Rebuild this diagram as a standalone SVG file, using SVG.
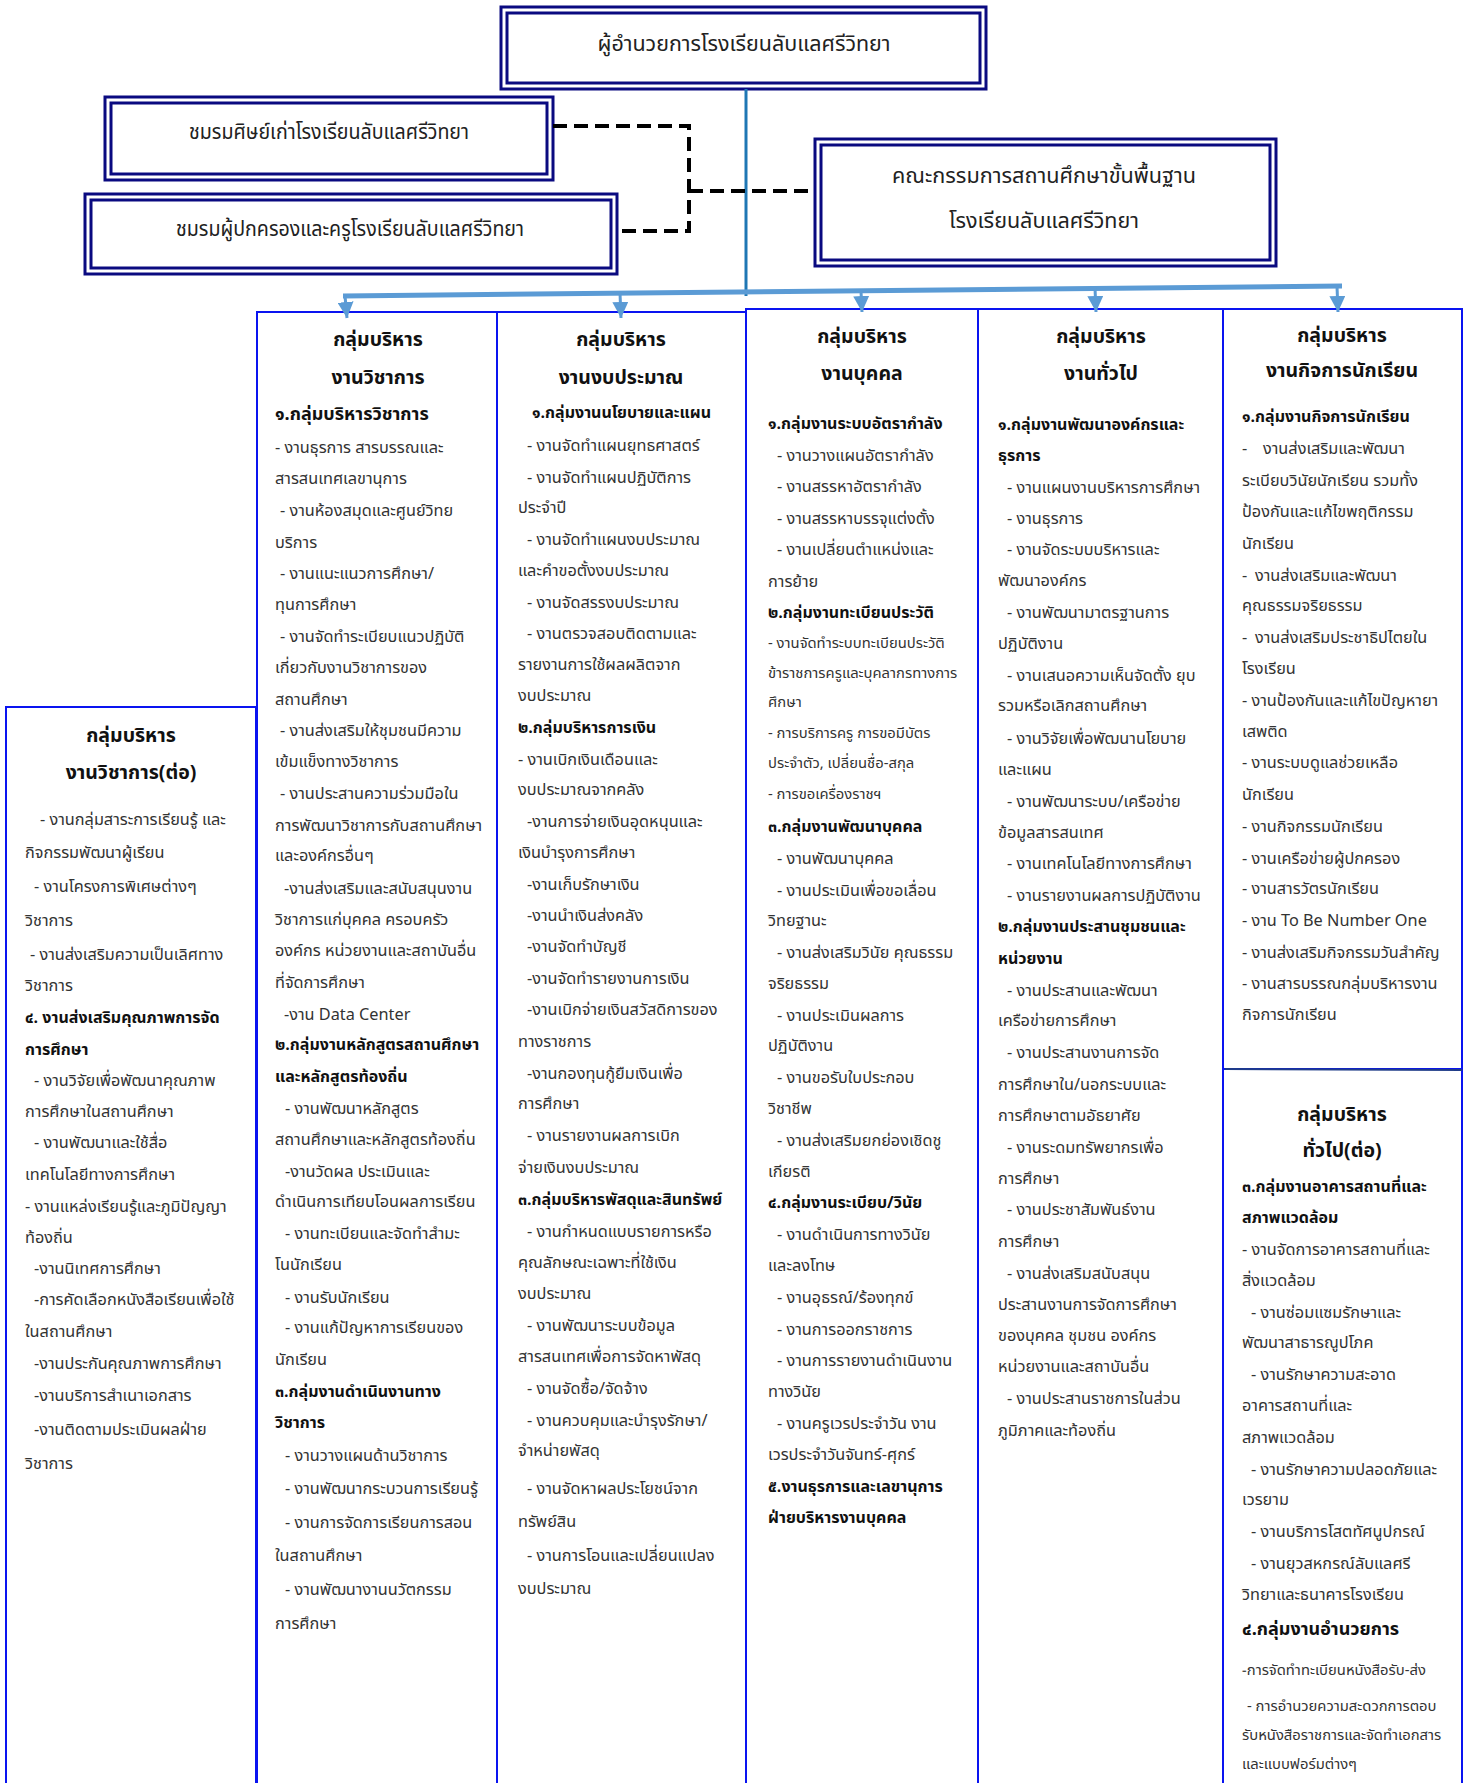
<svg xmlns="http://www.w3.org/2000/svg" width="1465" height="1783" viewBox="0 0 1465 1783">
<defs>
<style>
text{font-family:"Noto Sans Thai","Tahoma","Noto Sans","DejaVu Sans",sans-serif;}
.t{font-size:16.3px;fill:#333333;}
.b{font-size:16px;font-weight:bold;fill:#111111;}
.s{font-size:14.8px;fill:#333333;}
.h{font-size:19.5px;font-weight:bold;fill:#111111;text-anchor:middle;}
.hd{font-size:21px;fill:#222222;text-anchor:middle;}
.col{fill:#ffffff;stroke:#0a14f0;stroke-width:2;}
.out{fill:#ffffff;stroke:#0a0a80;stroke-width:3;}
.in{fill:none;stroke:#0a0a80;stroke-width:3;}
.dash{fill:none;stroke:#000000;stroke-width:4;stroke-dasharray:14 7;}
.arr{fill:none;stroke:#5b9bd5;stroke-width:3;}
</style>
<marker id="ah" markerWidth="16" markerHeight="16" refX="16" refY="8" orient="auto" markerUnits="userSpaceOnUse" viewBox="0 0 16 16">
<path d="M0,0 L16,8 L0,16 Z" fill="#5b9bd5"/>
</marker>
</defs>
<rect width="1465" height="1783" fill="#ffffff"/>

<g id="node-academic-cont">
<rect class="col" x="6" y="707" width="250" height="1090"/>
<text class="h" x="131" y="742">กลุ่มบริหาร</text>
<text class="h" x="131" y="779">งานวิชาการ(ต่อ)</text>
<text class="t" x="40" y="825">- งานกลุ่มสาระการเรียนรู้ และ</text>
<text class="t" x="25" y="858">กิจกรรมพัฒนาผู้เรียน</text>
<text class="t" x="34" y="892">- งานโครงการพิเศษต่างๆ</text>
<text class="t" x="25" y="926">วิชาการ</text>
<text class="t" x="30" y="960">- งานส่งเสริมความเป็นเลิศทาง</text>
<text class="t" x="25" y="991">วิชาการ</text>
<text class="b" x="25" y="1023">๔. งานส่งเสริมคุณภาพการจัด</text>
<text class="b" x="25" y="1055">การศึกษา</text>
<text class="t" x="34" y="1086">- งานวิจัยเพื่อพัฒนาคุณภาพ</text>
<text class="t" x="25" y="1117">การศึกษาในสถานศึกษา</text>
<text class="t" x="34" y="1148">- งานพัฒนาและใช้สื่อ</text>
<text class="t" x="25" y="1180">เทคโนโลยีทางการศึกษา</text>
<text class="t" x="25" y="1212">- งานแหล่งเรียนรู้และภูมิปัญญา</text>
<text class="t" x="25" y="1243">ท้องถิ่น</text>
<text class="t" x="34" y="1274">-งานนิเทศการศึกษา</text>
<text class="t" x="34" y="1305">-การคัดเลือกหนังสือเรียนเพื่อใช้</text>
<text class="t" x="25" y="1337">ในสถานศึกษา</text>
<text class="t" x="34" y="1369">-งานประกันคุณภาพการศึกษา</text>
<text class="t" x="34" y="1401">-งานบริการสำเนาเอกสาร</text>
<text class="t" x="34" y="1435">-งานติดตามประเมินผลฝ่าย</text>
<text class="t" x="25" y="1469">วิชาการ</text>
</g>

<g id="node-academic">
<rect class="col" x="257" y="312" width="240" height="1490"/>
<text class="h" x="378" y="346">กลุ่มบริหาร</text>
<text class="h" x="378" y="384">งานวิชาการ</text>
<text class="b" x="275" y="420" style="font-size:18px">๑.กลุ่มบริหารวิชาการ</text>
<text class="t" x="275" y="453">- งานธุรการ สารบรรณและ</text>
<text class="t" x="275" y="484">สารสนเทศเลขานุการ</text>
<text class="t" x="280" y="516">- งานห้องสมุดและศูนย์วิทย</text>
<text class="t" x="275" y="548">บริการ</text>
<text class="t" x="280" y="579">- งานแนะแนวการศึกษา/</text>
<text class="t" x="275" y="610">ทุนการศึกษา</text>
<text class="t" x="280" y="642">- งานจัดทำระเบียบแนวปฏิบัติ</text>
<text class="t" x="275" y="673">เกี่ยวกับงานวิชาการของ</text>
<text class="t" x="275" y="705">สถานศึกษา</text>
<text class="t" x="280" y="736">- งานส่งเสริมให้ชุมชนมีความ</text>
<text class="t" x="275" y="767">เข้มแข็งทางวิชาการ</text>
<text class="t" x="280" y="799">- งานประสานความร่วมมือใน</text>
<text class="t" x="275" y="831">การพัฒนาวิชาการกับสถานศึกษา</text>
<text class="t" x="275" y="861">และองค์กรอื่นๆ</text>
<text class="t" x="284" y="894">-งานส่งเสริมและสนับสนุนงาน</text>
<text class="t" x="275" y="925">วิชาการแก่บุคคล ครอบครัว</text>
<text class="t" x="275" y="956">องค์กร หน่วยงานและสถาบันอื่น</text>
<text class="t" x="275" y="988">ที่จัดการศึกษา</text>
<text class="t" x="284" y="1020">-งาน Data Center</text>
<text class="b" x="275" y="1050">๒.กลุ่มงานหลักสูตรสถานศึกษา</text>
<text class="b" x="275" y="1082">และหลักสูตรท้องถิ่น</text>
<text class="t" x="285" y="1114">- งานพัฒนาหลักสูตร</text>
<text class="t" x="275" y="1145">สถานศึกษาและหลักสูตรท้องถิ่น</text>
<text class="t" x="285" y="1177">-งานวัดผล ประเมินและ</text>
<text class="t" x="275" y="1207">ดำเนินการเทียบโอนผลการเรียน</text>
<text class="t" x="285" y="1239">- งานทะเบียนและจัดทำสำมะ</text>
<text class="t" x="275" y="1270">โนนักเรียน</text>
<text class="t" x="285" y="1303">- งานรับนักเรียน</text>
<text class="t" x="285" y="1333">- งานแก้ปัญหาการเรียนของ</text>
<text class="t" x="275" y="1365">นักเรียน</text>
<text class="b" x="275" y="1397">๓.กลุ่มงานดำเนินงานทาง</text>
<text class="b" x="275" y="1428">วิชาการ</text>
<text class="t" x="285" y="1461">- งานวางแผนด้านวิชาการ</text>
<text class="t" x="285" y="1494">- งานพัฒนากระบวนการเรียนรู้</text>
<text class="t" x="285" y="1528">- งานการจัดการเรียนการสอน</text>
<text class="t" x="275" y="1561">ในสถานศึกษา</text>
<text class="t" x="285" y="1595">- งานพัฒนางานนวัตกรรม</text>
<text class="t" x="275" y="1629">การศึกษา</text>
</g>

<g id="node-budget">
<rect class="col" x="497" y="312" width="249" height="1490"/>
<text class="h" x="621" y="346">กลุ่มบริหาร</text>
<text class="h" x="621" y="384">งานงบประมาณ</text>
<text class="b" x="532" y="418">๑.กลุ่มงานนโยบายและแผน</text>
<text class="t" x="527" y="451">- งานจัดทำแผนยุทธศาสตร์</text>
<text class="t" x="527" y="483">- งานจัดทำแผนปฏิบัติการ</text>
<text class="t" x="518" y="513">ประจำปี</text>
<text class="t" x="527" y="545">- งานจัดทำแผนงบประมาณ</text>
<text class="t" x="518" y="576">และคำขอตั้งงบประมาณ</text>
<text class="t" x="527" y="608">- งานจัดสรรงบประมาณ</text>
<text class="t" x="527" y="639">- งานตรวจสอบติดตามและ</text>
<text class="t" x="518" y="670">รายงานการใช้ผลผลิตจาก</text>
<text class="t" x="518" y="701">งบประมาณ</text>
<text class="b" x="518" y="733">๒.กลุ่มบริหารการเงิน</text>
<text class="t" x="518" y="765">- งานเบิกเงินเดือนและ</text>
<text class="t" x="518" y="795">งบประมาณจากคลัง</text>
<text class="t" x="527" y="827">-งานการจ่ายเงินอุดหนุนและ</text>
<text class="t" x="518" y="858">เงินบำรุงการศึกษา</text>
<text class="t" x="527" y="890">-งานเก็บรักษาเงิน</text>
<text class="t" x="527" y="921">-งานนำเงินส่งคลัง</text>
<text class="t" x="527" y="952">-งานจัดทำบัญชี</text>
<text class="t" x="527" y="984">-งานจัดทำรายงานการเงิน</text>
<text class="t" x="527" y="1015">-งานเบิกจ่ายเงินสวัสดิการของ</text>
<text class="t" x="518" y="1047">ทางราชการ</text>
<text class="t" x="527" y="1079">-งานกองทุนกู้ยืมเงินเพื่อ</text>
<text class="t" x="518" y="1109">การศึกษา</text>
<text class="t" x="527" y="1141">- งานรายงานผลการเบิก</text>
<text class="t" x="518" y="1173">จ่ายเงินงบประมาณ</text>
<text class="b" x="518" y="1205">๓.กลุ่มบริหารพัสดุและสินทรัพย์</text>
<text class="t" x="527" y="1237">- งานกำหนดแบบรายการหรือ</text>
<text class="t" x="518" y="1268">คุณลักษณะเฉพาะที่ใช้เงิน</text>
<text class="t" x="518" y="1299">งบประมาณ</text>
<text class="t" x="527" y="1331">- งานพัฒนาระบบข้อมูล</text>
<text class="t" x="518" y="1362">สารสนเทศเพื่อการจัดหาพัสดุ</text>
<text class="t" x="527" y="1394">- งานจัดซื้อ/จัดจ้าง</text>
<text class="t" x="527" y="1426">- งานควบคุมและบำรุงรักษา/</text>
<text class="t" x="518" y="1456">จำหน่ายพัสดุ</text>
<text class="t" x="527" y="1494">- งานจัดหาผลประโยชน์จาก</text>
<text class="t" x="518" y="1527">ทรัพย์สิน</text>
<text class="t" x="527" y="1561">- งานการโอนและเปลี่ยนแปลง</text>
<text class="t" x="518" y="1594">งบประมาณ</text>
</g>

<g id="node-personnel">
<rect class="col" x="746" y="309" width="232" height="1490"/>
<text class="h" x="862" y="343">กลุ่มบริหาร</text>
<text class="h" x="862" y="380">งานบุคคล</text>
<text class="b" x="768" y="429">๑.กลุ่มงานระบบอัตรากำลัง</text>
<text class="t" x="777" y="461">- งานวางแผนอัตรากำลัง</text>
<text class="t" x="777" y="492">- งานสรรหาอัตรากำลัง</text>
<text class="t" x="777" y="524">- งานสรรหาบรรจุแต่งตั้ง</text>
<text class="t" x="777" y="555">- งานเปลี่ยนตำแหน่งและ</text>
<text class="t" x="768" y="587">การย้าย</text>
<text class="b" x="768" y="618">๒.กลุ่มงานทะเบียนประวัติ</text>
<text class="s" x="768" y="648">- งานจัดทำระบบทะเบียนประวัติ</text>
<text class="s" x="768" y="678">ข้าราชการครูและบุคลากรทางการ</text>
<text class="s" x="768" y="707">ศึกษา</text>
<text class="s" x="768" y="738">- การบริการครู การขอมีบัตร</text>
<text class="s" x="768" y="768">ประจำตัว, เปลี่ยนชื่อ-สกุล</text>
<text class="s" x="768" y="799">- การขอเครื่องราชฯ</text>
<text class="b" x="768" y="832">๓.กลุ่มงานพัฒนาบุคคล</text>
<text class="t" x="777" y="864">- งานพัฒนาบุคคล</text>
<text class="t" x="777" y="896">- งานประเมินเพื่อขอเลื่อน</text>
<text class="t" x="768" y="926">วิทยฐานะ</text>
<text class="t" x="777" y="958">- งานส่งเสริมวินัย คุณธรรม</text>
<text class="t" x="768" y="989">จริยธรรม</text>
<text class="t" x="777" y="1021">- งานประเมินผลการ</text>
<text class="t" x="768" y="1051">ปฏิบัติงาน</text>
<text class="t" x="777" y="1083">- งานขอรับใบประกอบ</text>
<text class="t" x="768" y="1114">วิชาชีพ</text>
<text class="t" x="777" y="1146">- งานส่งเสริมยกย่องเชิดชู</text>
<text class="t" x="768" y="1177">เกียรติ</text>
<text class="b" x="768" y="1208">๔.กลุ่มงานระเบียบ/วินัย</text>
<text class="t" x="777" y="1240">- งานดำเนินการทางวินัย</text>
<text class="t" x="768" y="1271">และลงโทษ</text>
<text class="t" x="777" y="1303">- งานอุธรณ์/ร้องทุกข์</text>
<text class="t" x="777" y="1335">- งานการออกราชการ</text>
<text class="t" x="777" y="1366">- งานการรายงานดำเนินงาน</text>
<text class="t" x="768" y="1397">ทางวินัย</text>
<text class="t" x="777" y="1429">- งานครูเวรประจำวัน งาน</text>
<text class="t" x="768" y="1460">เวรประจำวันจันทร์-ศุกร์</text>
<text class="b" x="768" y="1492">๕.งานธุรการและเลขานุการ</text>
<text class="b" x="768" y="1523">ฝ่ายบริหารงานบุคคล</text>
</g>

<g id="node-general">
<rect class="col" x="978" y="309" width="245" height="1490"/>
<text class="h" x="1101" y="343">กลุ่มบริหาร</text>
<text class="h" x="1101" y="380">งานทั่วไป</text>
<text class="b" x="998" y="430">๑.กลุ่มงานพัฒนาองค์กรและ</text>
<text class="b" x="998" y="461">ธุรการ</text>
<text class="t" x="1007" y="493">- งานแผนงานบริหารการศึกษา</text>
<text class="t" x="1007" y="524">- งานธุรการ</text>
<text class="t" x="1007" y="555">- งานจัดระบบบริหารและ</text>
<text class="t" x="998" y="586">พัฒนาองค์กร</text>
<text class="t" x="1007" y="618">- งานพัฒนามาตรฐานการ</text>
<text class="t" x="998" y="649">ปฏิบัติงาน</text>
<text class="t" x="1007" y="681">- งานเสนอความเห็นจัดตั้ง ยุบ</text>
<text class="t" x="998" y="711">รวมหรือเลิกสถานศึกษา</text>
<text class="t" x="1007" y="744">- งานวิจัยเพื่อพัฒนานโยบาย</text>
<text class="t" x="998" y="775">และแผน</text>
<text class="t" x="1007" y="807">- งานพัฒนาระบบ/เครือข่าย</text>
<text class="t" x="998" y="838">ข้อมูลสารสนเทศ</text>
<text class="t" x="1007" y="869">- งานเทคโนโลยีทางการศึกษา</text>
<text class="t" x="1007" y="901">- งานรายงานผลการปฏิบัติงาน</text>
<text class="b" x="998" y="932">๒.กลุ่มงานประสานชุมชนและ</text>
<text class="b" x="998" y="964">หน่วยงาน</text>
<text class="t" x="1007" y="996">- งานประสานและพัฒนา</text>
<text class="t" x="998" y="1026">เครือข่ายการศึกษา</text>
<text class="t" x="1007" y="1058">- งานประสานงานการจัด</text>
<text class="t" x="998" y="1090">การศึกษาใน/นอกระบบและ</text>
<text class="t" x="998" y="1121">การศึกษาตามอัธยาศัย</text>
<text class="t" x="1007" y="1153">- งานระดมทรัพยากรเพื่อ</text>
<text class="t" x="998" y="1184">การศึกษา</text>
<text class="t" x="1007" y="1215">- งานประชาสัมพันธ์งาน</text>
<text class="t" x="998" y="1247">การศึกษา</text>
<text class="t" x="1007" y="1279">- งานส่งเสริมสนับสนุน</text>
<text class="t" x="998" y="1310">ประสานงานการจัดการศึกษา</text>
<text class="t" x="998" y="1341">ของบุคคล ชุมชน องค์กร</text>
<text class="t" x="998" y="1372">หน่วยงานและสถาบันอื่น</text>
<text class="t" x="1007" y="1404">- งานประสานราชการในส่วน</text>
<text class="t" x="998" y="1436">ภูมิภาคและท้องถิ่น</text>
</g>

<g id="node-student">
<rect class="col" x="1223" y="309" width="239" height="760"/>
<text class="h" x="1342" y="342">กลุ่มบริหาร</text>
<text class="h" x="1342" y="377">งานกิจการนักเรียน</text>
<text class="b" x="1242" y="422">๑.กลุ่มงานกิจการนักเรียน</text>
<text class="t" x="1242" y="454">-<tspan x="1263">งานส่งเสริมและพัฒนา</tspan></text>
<text class="t" x="1242" y="486">ระเบียบวินัยนักเรียน รวมทั้ง</text>
<text class="t" x="1242" y="517">ป้องกันและแก้ไขพฤติกรรม</text>
<text class="t" x="1242" y="549">นักเรียน</text>
<text class="t" x="1242" y="581">-<tspan x="1255">งานส่งเสริมและพัฒนา</tspan></text>
<text class="t" x="1242" y="611">คุณธรรมจริยธรรม</text>
<text class="t" x="1242" y="643">-<tspan x="1255">งานส่งเสริมประชาธิปไตยใน</tspan></text>
<text class="t" x="1242" y="674">โรงเรียน</text>
<text class="t" x="1242" y="706">- งานป้องกันและแก้ไขปัญหายา</text>
<text class="t" x="1242" y="737">เสพติด</text>
<text class="t" x="1242" y="768">- งานระบบดูแลช่วยเหลือ</text>
<text class="t" x="1242" y="800">นักเรียน</text>
<text class="t" x="1242" y="832">- งานกิจกรรมนักเรียน</text>
<text class="t" x="1242" y="864">- งานเครือข่ายผู้ปกครอง</text>
<text class="t" x="1242" y="894">- งานสารวัตรนักเรียน</text>
<text class="t" x="1242" y="926">- งาน To Be Number One</text>
<text class="t" x="1242" y="958">- งานส่งเสริมกิจกรรมวันสำคัญ</text>
<text class="t" x="1242" y="989">- งานสารบรรณกลุ่มบริหารงาน</text>
<text class="t" x="1242" y="1020">กิจการนักเรียน</text>
</g>

<g id="node-general-cont">
<rect class="col" x="1223" y="1069" width="239" height="730"/>
<line x1="1225" y1="1069" x2="1462" y2="1070" stroke="#1f3c88" stroke-width="2"/>
<text class="h" x="1342" y="1121">กลุ่มบริหาร</text>
<text class="h" x="1342" y="1157">ทั่วไป(ต่อ)</text>
<text class="b" x="1242" y="1192">๓.กลุ่มงานอาคารสถานที่และ</text>
<text class="b" x="1242" y="1223">สภาพแวดล้อม</text>
<text class="t" x="1242" y="1255">- งานจัดการอาคารสถานที่และ</text>
<text class="t" x="1242" y="1286">สิ่งแวดล้อม</text>
<text class="t" x="1251" y="1318">- งานซ่อมแซมรักษาและ</text>
<text class="t" x="1242" y="1348">พัฒนาสาธารณูปโภค</text>
<text class="t" x="1251" y="1380">- งานรักษาความสะอาด</text>
<text class="t" x="1242" y="1411">อาคารสถานที่และ</text>
<text class="t" x="1242" y="1443">สภาพแวดล้อม</text>
<text class="t" x="1251" y="1475">- งานรักษาความปลอดภัยและ</text>
<text class="t" x="1242" y="1505">เวรยาม</text>
<text class="t" x="1251" y="1537">- งานบริการโสตทัศนูปกรณ์</text>
<text class="t" x="1251" y="1569">- งานยุวสหกรณ์ลับแลศรี</text>
<text class="t" x="1242" y="1600">วิทยาและธนาคารโรงเรียน</text>
<text class="b" x="1242" y="1635" style="font-size:18px">๔.กลุ่มงานอำนวยการ</text>
<text class="s" x="1242" y="1675">−การจัดทำทะเบียนหนังสือรับ-ส่ง</text>
<text class="s" x="1247" y="1711">- การอำนวยความสะดวกการตอบ</text>
<text class="s" x="1242" y="1740">รับหนังสือราชการและจัดทำเอกสาร</text>
<text class="s" x="1242" y="1769">และแบบฟอร์มต่างๆ</text>
</g>

<g id="node-director">
<rect class="out" x="501" y="7" width="485" height="82"/>
<rect class="in" x="507" y="13" width="473" height="70"/>
<text class="hd" x="744" y="51" textLength="293" lengthAdjust="spacingAndGlyphs">ผู้อำนวยการโรงเรียนลับแลศรีวิทยา</text>
</g>
<g id="node-alumni">
<rect class="out" x="105" y="97" width="448" height="83"/>
<rect class="in" x="111" y="103" width="436" height="71"/>
<text class="hd" x="329" y="139" textLength="280" lengthAdjust="spacingAndGlyphs">ชมรมศิษย์เก่าโรงเรียนลับแลศรีวิทยา</text>
</g>
<g id="node-parents">
<rect class="out" x="85" y="194" width="532" height="80"/>
<rect class="in" x="91" y="200" width="520" height="68"/>
<text class="hd" x="350" y="236" textLength="348" lengthAdjust="spacingAndGlyphs">ชมรมผู้ปกครองและครูโรงเรียนลับแลศรีวิทยา</text>
</g>
<g id="node-committee">
<rect class="out" x="815" y="139" width="461" height="127"/>
<rect class="in" x="821" y="145" width="449" height="115"/>
<text class="hd" x="1044" y="183" textLength="304" lengthAdjust="spacingAndGlyphs">คณะกรรมการสถานศึกษาขั้นพื้นฐาน</text>
<text class="hd" x="1044" y="228" textLength="190" lengthAdjust="spacingAndGlyphs">โรงเรียนลับแลศรีวิทยา</text>
</g>

<g id="connectors">
<line x1="746" y1="89" x2="746" y2="296" stroke="#1f77b4" stroke-width="3"/>
<line x1="343" y1="296" x2="1342" y2="286" stroke="#5b9bd5" stroke-width="5"/>
<path class="arr" d="M345,296 L347,318" marker-end="url(#ah)"/>
<path class="arr" d="M620,293 L621,318" marker-end="url(#ah)"/>
<path class="arr" d="M861,291 L862,312" marker-end="url(#ah)"/>
<path class="arr" d="M1095,288 L1096,312" marker-end="url(#ah)"/>
<path class="arr" d="M1337,286 L1338,312" marker-end="url(#ah)"/>
<path class="dash" d="M553,126 H689 V231 H617"/>
<path class="dash" d="M689,191 H815"/>
</g>
</svg>
